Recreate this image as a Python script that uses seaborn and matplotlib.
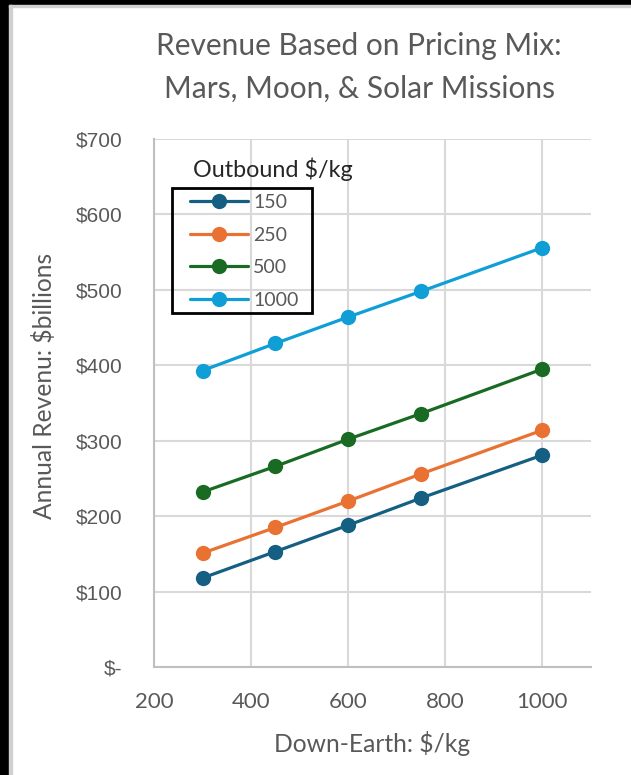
import matplotlib
matplotlib.use("Agg")
import matplotlib.pyplot as plt
import matplotlib.patches as mpatches
from matplotlib.ticker import FuncFormatter
import seaborn as sns
import pandas as pd

# data
down_earth = [300, 450, 600, 750, 1000]
outbound = ["150", "250", "500", "1000"]
rev_150 = [118, 153, 188, 224, 281]
rev_250 = [151, 185, 220, 256, 314]
rev_500 = [232, 266, 302, 336, 395]
rev_1000 = [393, 429, 464, 498, 556]
colors = ["#156082", "#E97132", "#196B24", "#0F9ED5"]

rows = []
for name, vals in zip(outbound, [rev_150, rev_250, rev_500, rev_1000]):
    for x, y in zip(down_earth, vals):
        rows.append({"down": x, "rev": y, "outbound": name})
df = pd.DataFrame(rows)

sns.set_style("white")
plt.rcParams["font.family"] = ["Lato", "DejaVu Sans"]

W, H = 631, 775
fig = plt.figure(figsize=(W / 100, H / 100), dpi=100)
ax = fig.add_axes([154 / W, 1 - 667 / H, 437 / W, 528 / H])

sns.lineplot(data=df, x="down", y="rev", hue="outbound", hue_order=outbound,
             palette=dict(zip(outbound, colors)), marker="o", markersize=11,
             markeredgewidth=0, linewidth=2.3, ax=ax)

ax.set_xlim(200, 1100)
ax.set_ylim(0, 700)
ax.set_xticks([200, 400, 600, 800, 1000])
ax.set_yticks(range(0, 701, 100))
ax.yaxis.set_major_formatter(FuncFormatter(lambda v, p: "$-" if v == 0 else f"${v:.0f}"))
ax.grid(True, color="#D9D9D9", linewidth=1.5)
ax.set_axisbelow(True)
for s in ["top", "right"]:
    ax.spines[s].set_visible(False)
for s in ["left", "bottom"]:
    ax.spines[s].set_color("#BFBFBF")
    ax.spines[s].set_linewidth(1.5)

ax.tick_params(axis="x", length=0, pad=18, labelsize=16, labelcolor="#595959")
ax.tick_params(axis="y", length=0, pad=23, labelsize=15, labelcolor="#595959")
for lbl in ax.get_yticklabels():
    lbl.set_fontfamily("Liberation Sans")

ax.set_xlabel("Down-Earth: $/kg", fontsize=17.7, color="#595959", va="center")
ax.set_ylabel("Annual Revenu: $billions", fontsize=17.7, color="#595959", va="center")
ax.xaxis.set_label_coords(0.5, (667 - 743) / 528)
ax.yaxis.set_label_coords((44 - 154) / 437, (667 - 386) / 528)

# legend without its own frame, box drawn separately
handles, labels = ax.get_legend_handles_labels()
leg = ax.legend(handles, labels, loc="upper left",
                bbox_to_anchor=((190 - 154) / 437, (667 - 194) / 528),
                borderaxespad=0, borderpad=0, fontsize=14, frameon=False,
                handlelength=3.0, handletextpad=0.25, labelspacing=0.8,
                labelcolor="#595959")
ax.add_patch(mpatches.Rectangle((172 / W, 1 - 313 / H), 140 / W, 125 / H,
                                transform=fig.transFigure, fill=False,
                                edgecolor="black", linewidth=2, zorder=5))
fig.text(193 / W, 1 - 177 / H, "Outbound $/kg", fontsize=16.8, color="#262626",
         va="baseline", ha="left")

fig.text(359 / W, 1 - 55 / H, "Revenue Based on Pricing Mix:", fontsize=21.5,
         color="#595959", ha="center", va="baseline")
fig.text(359 / W, 1 - 98 / H, "Mars, Moon, & Solar Missions", fontsize=21.5,
         color="#595959", ha="center", va="baseline")

# dark screenshot border on left and top
fig.patches.append(mpatches.Rectangle((0, 0), 9 / W, 1, transform=fig.transFigure,
                                      color="black", zorder=10))
fig.patches.append(mpatches.Rectangle((0, 1 - 5 / H), 1, 5 / H, transform=fig.transFigure,
                                      color="black", zorder=10))
fig.patches.append(mpatches.Rectangle((9 / W, 0), 3 / W, 1 - 5 / H, transform=fig.transFigure,
                                      color="#D0D0D0", zorder=10))
fig.patches.append(mpatches.Rectangle((9 / W, 1 - 7 / H), 1, 2 / H, transform=fig.transFigure,
                                      color="#D0D0D0", zorder=10))

fig.savefig("out.png", dpi=100)
